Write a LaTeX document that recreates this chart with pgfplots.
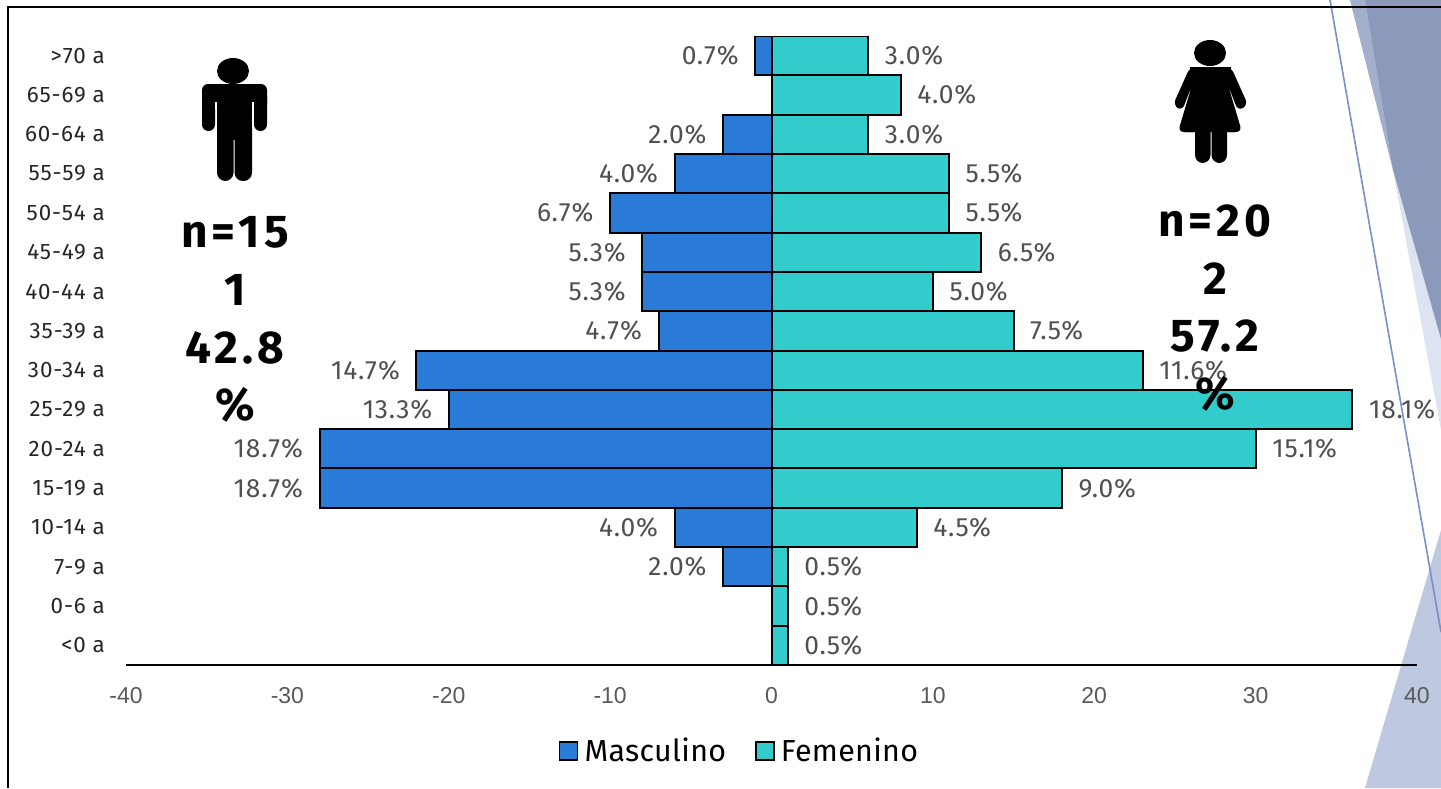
\documentclass[border=0pt]{standalone}
\usepackage{fontspec}
\setmainfont{Fira Sans}
\newfontfamily\tickfont{Liberation Sans}
\newfontfamily\lblfont[LetterSpace=3]{Fira Sans}
\newfontfamily\catfont[LetterSpace=4]{Fira Sans}
\newfontfamily\legfont[LetterSpace=1]{Fira Sans}
\newfontfamily\bigfont[LetterSpace=9]{Fira Sans}
\usepackage{pgfplots}
\pgfplotsset{compat=1.18}
\definecolor{masc}{HTML}{2A7BD8}
\definecolor{fem}{HTML}{32CCCC}
\definecolor{lblgray}{HTML}{505050}
\definecolor{tickgray}{HTML}{595959}
\definecolor{deco}{HTML}{8B99BB}
\definecolor{decomid}{HTML}{A3AFCB}
\definecolor{decolight}{HTML}{DDE3F0}
\definecolor{decolow}{HTML}{BEC8E0}
\definecolor{decoline}{HTML}{7B8FC7}
\begin{document}
\begin{tikzpicture}
\useasboundingbox (0,0) rectangle (720.5pt,-394pt);
% 1 px of the reference = 0.5pt, y runs down
\begin{scope}[x=0.5pt,y=-0.5pt]
\fill[decolight] (1350,0) -- (1393,170) -- (1441,430) -- (1441,0) -- cycle;
\fill[decomid] (1350,0) -- (1393,170) -- (1365,0) -- cycle;
\fill[deco] (1365,0) -- (1393,170) -- (1441,339) -- (1441,0) -- cycle;
\fill[decolow] (1441,530) -- (1365,788) -- (1441,788) -- cycle;
\draw[decoline,line width=0.8pt] (1330,0) -- (1441,632);
\draw[black,line width=0.8pt] (8,788) -- (8,7) -- (1441,7);
\end{scope}

\begin{axis}[
    at={(63pt,-332.5pt)},
    anchor=south west,
    scale only axis,
    width=645.5pt,
    height=314.5pt,
    xmin=-40, xmax=40,
    ymin=-0.5, ymax=15.5,
    axis x line*=bottom,
    axis y line*=left,
    y axis line style={draw=none},
    x axis line style={black,line width=1pt,-},
    xtick={-40,-30,...,40},
    ytick={0,...,15},
    yticklabels={<0 a,0-6 a,7-9 a,10-14 a,15-19 a,20-24 a,25-29 a,30-34 a,35-39 a,40-44 a,45-49 a,50-54 a,55-59 a,60-64 a,65-69 a,>70 a},
    major tick length=0pt,
    xticklabel style={font=\fontsize{11.5}{13}\tickfont,text=tickgray,yshift=-7.5pt,/pgf/number format/assume math mode=true},
    yticklabel style={font=\fontsize{11.2}{13}\catfont,text=black!85,xshift=-7pt},
    xbar,
    bar width=19.66pt,
    bar shift=0pt,
    point meta=explicit symbolic,
    nodes near coords,
    legend columns=2,
    legend style={at={(0.476,-0.1367)},anchor=center,draw=none,fill=none,
      font=\fontsize{15.2}{17}\legfont,/tikz/every even column/.style={column sep=12.5pt}},
    legend image code/.code={\draw[#1,line width=0.7pt] (0pt,-4.5pt) rectangle (9pt,4.5pt);\path[draw=none,fill=none] (0pt,0pt) -- (10.5pt,0pt);},
]

\addplot[draw=black,line width=1pt,fill=masc,
    nodes near coords style={anchor=east,xshift=-4.5pt,font=\fontsize{13.2}{15}\lblfont,text=lblgray}] coordinates {
  (0,0) [] (0,1) [] (-3,2) [2.0\%] (-6,3) [4.0\%] (-28,4) [18.7\%] (-28,5) [18.7\%]
  (-20,6) [13.3\%] (-22,7) [14.7\%] (-7,8) [4.7\%] (-8,9) [5.3\%] (-8,10) [5.3\%]
  (-10,11) [6.7\%] (-6,12) [4.0\%] (-3,13) [2.0\%] (0,14) [] (-1,15) [0.7\%]
};
\addlegendentry{Masculino}

\addplot[draw=black,line width=1pt,fill=fem,
    nodes near coords style={anchor=west,xshift=4.5pt,font=\fontsize{13.2}{15}\lblfont,text=lblgray}] coordinates {
  (1,0) [0.5\%] (1,1) [0.5\%] (1,2) [0.5\%] (9,3) [4.5\%] (18,4) [9.0\%] (30,5) [15.1\%]
  (36,6) [18.1\%] (23,7) [11.6\%] (15,8) [7.5\%] (10,9) [5.0\%] (13,10) [6.5\%]
  (11,11) [5.5\%] (11,12) [5.5\%] (6,13) [3.0\%] (8,14) [4.0\%] (6,15) [3.0\%]
};
\addlegendentry{Femenino}

\end{axis}

\begin{scope}[x=0.5pt,y=-0.5pt]
% man
\fill (233,71) ellipse (16 and 13);
\fill[rounded corners=3pt] (202,84) rectangle (267,110);
\fill[rounded corners=3.2pt] (202,90) rectangle (215,131);
\fill[rounded corners=3.2pt] (254,90) rectangle (267,131);
\fill (217,90) rectangle (252,140);
\fill[rounded corners=4.2pt] (217,120) rectangle (233.5,181);
\fill[rounded corners=4.2pt] (234.5,120) rectangle (252,181);
\fill[white] (215,102) rectangle (217,110);
\fill[white] (252,102) rectangle (254,110);
% woman
\fill (1210,53) ellipse (16 and 13);
\fill[rounded corners=3pt] (1190,67) -- (1231,67) -- (1248,105) -- (1238,111) -- (1228,85)
    -- (1242,132) -- (1178,132) -- (1192,85) -- (1182,111) -- (1173,105) -- cycle;
\fill (1190,67) -- (1231,67) -- (1228,90) -- (1192,90) -- cycle;
\fill (1185,132) -- (1235,132) -- (1233,125) -- (1187,125) -- cycle;
\fill[rounded corners=4pt] (1195,125) rectangle (1210.5,163);
\fill[rounded corners=4pt] (1211.5,125) rectangle (1227,163);
% totals
\foreach \t/\yy in {n=15/232,1/290,42.8/348,\%/405}
  \node[font=\fontsize{23}{25}\bigfont\bfseries] at (235,\yy) {\t};
\foreach \t/\yy in {n=20/221,2/279,57.2/336,\%/394}
  \node[font=\fontsize{23}{25}\bigfont\bfseries] at (1215,\yy) {\t};
\end{scope}
\end{tikzpicture}
\end{document}
